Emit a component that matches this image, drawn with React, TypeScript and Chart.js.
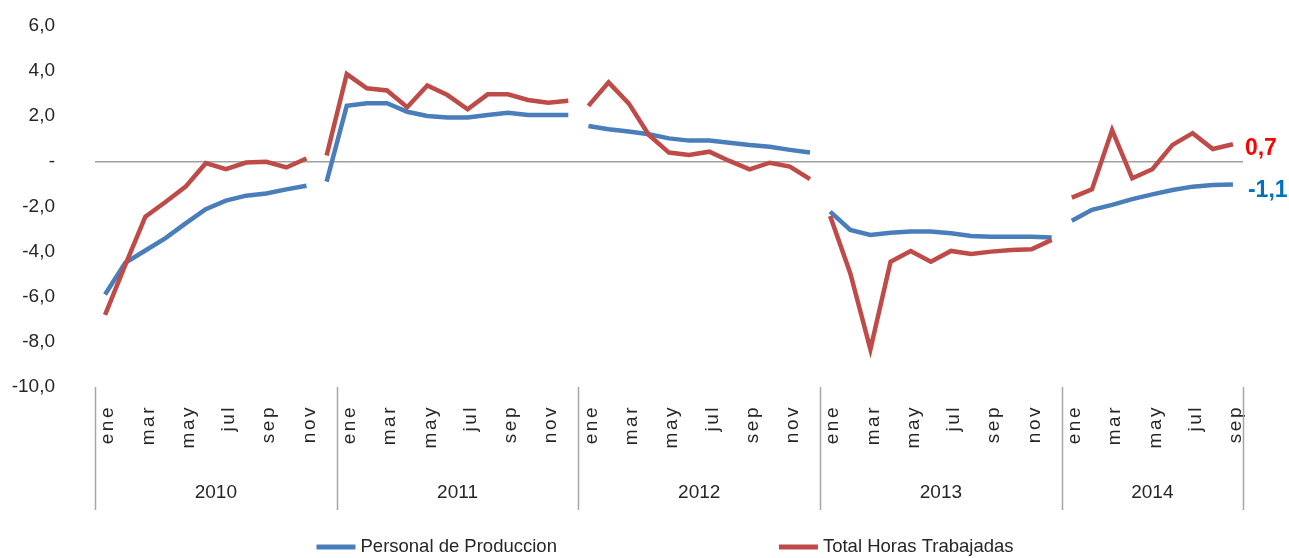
import React, { useEffect, useRef } from 'react';
import { Chart, registerables } from 'chart.js';

Chart.register(...registerables);

const FONT = '"Liberation Sans", Arial, sans-serif';

// ---- data ----
const years = ['2010', '2011', '2012', '2013', '2014'];
const monthsPerYear = [12, 12, 12, 12, 9];
const monthNames = ['ene', 'feb', 'mar', 'abr', 'may', 'jun', 'jul', 'ago', 'sep', 'oct', 'nov', 'dic'];

const personalProduccion = [
  -5.9, -4.5, -3.95, -3.4, -2.75, -2.12, -1.74, -1.52, -1.42, -1.24, -1.08, -0.9,
  2.46, 2.58, 2.58, 2.2, 2.01, 1.94, 1.94, 2.06, 2.16, 2.06, 2.06, 2.06,
  1.57, 1.42, 1.32, 1.2, 1.02, 0.92, 0.92, 0.83, 0.73, 0.65, 0.51, 0.39,
  -2.23, -3.04, -3.26, -3.16, -3.11, -3.11, -3.19, -3.31, -3.34, -3.34, -3.34, -3.37,
  -2.63, -2.15, -1.93, -1.67, -1.46, -1.27, -1.12, -1.05, -1.02,
];

const totalHoras = [
  -6.8, -4.6, -2.45, -1.8, -1.12, -0.08, -0.34, -0.05, -0.02, -0.27, 0.13, 0.26,
  3.87, 3.24, 3.14, 2.4, 3.36, 2.94, 2.31, 2.97, 2.97, 2.72, 2.6, 2.69,
  2.46, 3.5, 2.57, 1.17, 0.39, 0.28, 0.43, 0.02, -0.35, -0.06, -0.23, -0.79,
  -2.42, -4.96, -8.33, -4.45, -3.97, -4.45, -3.97, -4.1, -4.0, -3.93, -3.9, -3.48,
  -1.61, -1.24, 1.39, -0.75, -0.35, 0.73, 1.25, 0.55, 0.76,
];

// the line is interrupted after these point indices
const breaksAfter = [10, 23, 35, 47];

const seriesNames = ['Personal de Produccion', 'Total Horas Trabajadas'];
const endLabels = ['-1,1', '0,7'];

const yMin = -10;
const yMax = 6;
const yStep = 2;

const categories: string[] = years.flatMap((_, k) => monthNames.slice(0, monthsPerYear[k]));

const BLUE = '#4a7ebb';
const RED = '#be4b48';
const TEXT = '#262626';

const decorPlugin = {
  id: 'decor',
  afterDatasetsDraw(chart: any) {
    // letter spacing for the month labels (x tick labels are drawn in a layer after the datasets)
    (chart.ctx as any).letterSpacing = '2.5px';
  },
  afterDraw(chart: any) {
    const { ctx, chartArea, scales } = chart;
    const x = scales.x;
    (ctx as any).letterSpacing = '0px';
    ctx.save();
    const step = x.getPixelForValue(1) - x.getPixelForValue(0);

    // year separators and year labels
    ctx.strokeStyle = '#a6a6a6';
    ctx.lineWidth = 1.5;
    ctx.fillStyle = TEXT;
    ctx.font = `19px ${FONT}`;
    ctx.textAlign = 'center';
    ctx.textBaseline = 'middle';
    const top = chartArea.bottom;
    const bottom = chartArea.bottom + 123;
    let start = 0;
    years.forEach((yr, k) => {
      const n = monthsPerYear[k];
      const left = x.getPixelForValue(start) - step / 2;
      const right = x.getPixelForValue(start + n - 1) + step / 2;
      ctx.beginPath();
      ctx.moveTo(Math.round(left) + 0.5, top);
      ctx.lineTo(Math.round(left) + 0.5, bottom);
      if (k === years.length - 1) {
        ctx.moveTo(Math.round(right) + 0.5, top);
        ctx.lineTo(Math.round(right) + 0.5, bottom);
      }
      ctx.stroke();
      ctx.fillText(yr, (left + right) / 2, chartArea.bottom + 106);
      start += n;
    });

    // end-of-series value labels
    ctx.font = `bold 23px ${FONT}`;
    ctx.textAlign = 'left';
    chart.data.datasets.forEach((ds: any, i: number) => {
      const meta = chart.getDatasetMeta(i);
      const pt = meta.data[meta.data.length - 1];
      ctx.fillStyle = ds.endLabelColor;
      ctx.fillText(ds.endLabel, pt.x + ds.endDx, pt.y + ds.endDy);
    });

    // legend
    ctx.font = `18.5px ${FONT}`;
    ctx.textBaseline = 'middle';
    const lineLen = 39;
    const gapText = 5;
    const gapItems = 222;
    const widths = chart.data.datasets.map(
      (ds: any) => lineLen + gapText + ctx.measureText(ds.label).width
    );
    const total = widths.reduce((a: number, b: number) => a + b, 0) + gapItems * (widths.length - 1);
    let lx = (chartArea.left + chartArea.right) / 2 - 4 - total / 2;
    const ly = 547;
    chart.data.datasets.forEach((ds: any, i: number) => {
      ctx.strokeStyle = ds.borderColor;
      ctx.lineWidth = 5;
      ctx.lineCap = 'butt';
      ctx.beginPath();
      ctx.moveTo(lx, ly);
      ctx.lineTo(lx + lineLen, ly);
      ctx.stroke();
      ctx.fillStyle = TEXT;
      ctx.fillText(ds.label, lx + lineLen + gapText, ly);
      lx += widths[i] + gapItems;
    });
    ctx.restore();
  },
};

export default function App() {
  const ref = useRef<HTMLCanvasElement | null>(null);

  useEffect(() => {
    if (!ref.current) return;
    const segColor = (c: any) => (breaksAfter.includes(c.p0DataIndex) ? 'rgba(0,0,0,0)' : undefined);
    const chart = new Chart(ref.current, {
      type: 'line',
      data: {
        labels: categories,
        datasets: [
          {
            label: seriesNames[0],
            data: personalProduccion,
            borderColor: BLUE,
            backgroundColor: BLUE,
            borderWidth: 4.5,
            pointRadius: 0,
            tension: 0,
            order: 1,
            segment: { borderColor: segColor },
            endLabel: endLabels[0],
            endLabelColor: '#0070c0',
            endDx: 15,
            endDy: 6,
          } as any,
          {
            label: seriesNames[1],
            data: totalHoras,
            borderColor: RED,
            backgroundColor: RED,
            borderWidth: 4.5,
            pointRadius: 0,
            tension: 0,
            order: 0,
            segment: { borderColor: segColor },
            endLabel: endLabels[1],
            endLabelColor: '#ff0000',
            endDx: 12,
            endDy: 4,
          } as any,
        ],
      },
      options: {
        responsive: false,
        animation: false,
        devicePixelRatio: 1,
        layout: { padding: { top: 26, right: 46, bottom: 0, left: 0 } },
        plugins: {
          legend: { display: false },
          tooltip: { enabled: false },
        },
        scales: {
          x: {
            type: 'category',
            offset: true,
            grid: { display: false, drawTicks: false },
            border: { display: false },
            afterFit: (s: any) => {
              s.height = 171;
            },
            ticks: {
              z: 1,
              autoSkip: false,
              minRotation: 90,
              maxRotation: 90,
              padding: 18,
              labelOffset: 3,
              color: TEXT,
              font: { family: FONT, size: 19 },
              callback: (_v: any, idx: number) => (idx % 2 === 0 ? categories[idx] : ''),
            },
          },
          y: {
            min: yMin,
            max: yMax,
            afterFit: (s: any) => {
              s.width = 95;
            },
            grid: {
              drawTicks: true,
              tickLength: 40,
              tickColor: 'rgba(0,0,0,0)',
              lineWidth: 1.5,
              color: (c: any) => (c.tick && c.tick.value === 0 ? '#a0a0a0' : 'rgba(0,0,0,0)'),
            },
            border: { display: false },
            ticks: {
              stepSize: yStep,
              padding: 0,
              color: TEXT,
              font: { family: FONT, size: 19 },
              callback: (v: any) => (Number(v) === 0 ? '-' : Number(v).toFixed(1).replace('.', ',')),
            },
          },
        },
      } as any,
      plugins: [decorPlugin],
    });
    return () => chart.destroy();
  }, []);

  return (
    <div style={{ position: 'fixed', left: 0, top: 0, width: 1289, height: 558, background: '#fff' }}>
      <canvas ref={ref} width={1289} height={558} style={{ display: 'block', width: 1289, height: 558 }} />
    </div>
  );
}
